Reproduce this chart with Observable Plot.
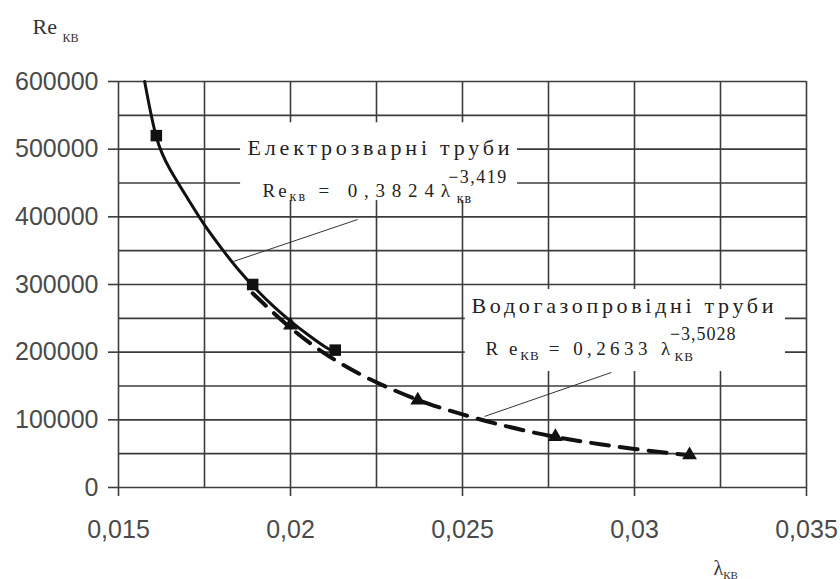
<!DOCTYPE html>
<html><head><meta charset="utf-8">
<script src="https://cdn.jsdelivr.net/npm/d3@7"></script>
<script src="https://cdn.jsdelivr.net/npm/@observablehq/plot@0.6"></script>
<style>body{margin:0;background:#fff} svg{display:block} svg text.serif, svg text.serif tspan{font-family:"Liberation Serif","DejaVu Serif","Noto Serif",serif !important}</style>
</head><body><div id="chart"></div>
<script>
// ---- tick values & labels ----
const xTicks = [0.015, 0.02, 0.025, 0.03, 0.035];
const xTickLabels = ["0,015", "0,02", "0,025", "0,03", "0,035"];
const yTicks = [0, 100000, 200000, 300000, 400000, 500000, 600000];
const yTickLabels = ["0", "100000", "200000", "300000", "400000", "500000", "600000"];
const xGrid = [0.015, 0.0175, 0.02, 0.0225, 0.025, 0.0275, 0.03, 0.0325, 0.035];
const yGrid = [0, 50000, 100000, 150000, 200000, 250000, 300000, 350000, 400000, 450000, 500000, 550000, 600000];

// ---- Електрозварні труби (squares, solid curve) ----
const elLambda = [0.0161, 0.0189, 0.0213];
const elRe = [520000, 300000, 203000];
const elCurveLambda = [0.01576, 0.0161, 0.0165, 0.017, 0.0175, 0.018, 0.0185, 0.019, 0.0195, 0.02, 0.0205, 0.021, 0.0213];
const elCurveRe = [600000, 518000, 470000, 428000, 388000, 353000, 321000, 293000, 268000, 246000, 226000, 208000, 200000];

// ---- Водогазопровідні труби (triangles, dashed curve) ----
const wgLambda = [0.02, 0.0237, 0.0277, 0.0316];
const wgRe = [240000, 129000, 75000, 48000];
const wgCurveLambda = [0.0189, 0.02, 0.021, 0.022, 0.023, 0.024, 0.025, 0.026, 0.027, 0.028, 0.029, 0.03, 0.031, 0.0316];
const wgCurveRe = [287000, 236000, 198000, 168000, 144000, 124000, 108000, 94000, 82000, 72000, 64000, 57000, 51000, 47500];

const seriesNames = ["Електрозварні труби", "Водогазопровідні труби"];
const formulaKeys = ["F1", "F2"];

const el = elLambda.map((x, i) => ({x, y: elRe[i]}));
const elCurve = elCurveLambda.map((x, i) => ({x, y: elCurveRe[i]}));
const wg = wgLambda.map((x, i) => ({x, y: wgRe[i]}));
const wgCurve = wgCurveLambda.map((x, i) => ({x, y: wgCurveRe[i]}));

const gridColor = "#3c3c3c";

const plot = Plot.plot({
  width: 840, height: 579,
  marginLeft: 118, marginRight: 34, marginTop: 81, marginBottom: 92,
  x: {domain: [0.015, 0.035]},
  y: {domain: [0, 600000]},
  style: {fontFamily: "Liberation Sans, Arial, sans-serif", color: "#444", background: "#fff"},
  marks: [
    Plot.ruleY(yGrid, {x1: 0.015, x2: 0.035, stroke: gridColor, strokeWidth: 1.6}),
    Plot.ruleX(xGrid, {y1: 0, y2: 600000, stroke: gridColor, strokeWidth: 1.6}),
    Plot.axisY({ticks: yTicks, tickFormat: d => yTickLabels[yTicks.indexOf(d)], tickSize: 10, tickPadding: 10, label: null, fontSize: 25, fill: "#4a4a4a", stroke: gridColor, strokeWidth: 1.6}),
    Plot.axisX({ticks: xTicks, tickFormat: d => xTickLabels[xTicks.indexOf(d)], tickSize: 9, tickPadding: 24, label: null, fontSize: 25, fill: "#4a4a4a", stroke: gridColor, strokeWidth: 1.6}),
    // white label boxes
    Plot.rect([0], {x1: 0.01855, x2: 0.0266, y1: 424000, y2: 539000, fill: "white"}),
    Plot.rect([0], {x1: 0.02508, x2: 0.03439, y1: 171400, y2: 292600, fill: "white"}),
    // curves
    Plot.line(wgCurve, {x: "x", y: "y", curve: "natural", stroke: "#111", strokeWidth: 4, strokeDasharray: "18,11"}),
    Plot.line(elCurve, {x: "x", y: "y", curve: "natural", stroke: "#111", strokeWidth: 3}),
    Plot.dot(el, {x: "x", y: "y", symbol: "square", r: 6.5, fill: "#111"}),
    Plot.dot(wg, {x: "x", y: "y", symbol: "triangle", r: 5.5, fill: "#111"}),
    // leader lines
    Plot.link([0], {x1: 0.02195, y1: 396000, x2: 0.01834, y2: 334000, stroke: "#333", strokeWidth: 1}),
    Plot.link([0], {x1: 0.02933, y1: 170000, x2: 0.02564, y2: 105000, stroke: "#333", strokeWidth: 1}),
    // annotation texts
    Plot.text([seriesNames[0]], {x: 0.02256, y: 492100, text: d => d, textAnchor: "middle", lineAnchor: "bottom", fontFamily: "Liberation Serif", fontSize: 22, fill: "#222"}),
    Plot.text([seriesNames[1]], {x: 0.02965, y: 258600, text: d => d, textAnchor: "middle", lineAnchor: "bottom", fontFamily: "Liberation Serif", fontSize: 22, fill: "#222"}),
    Plot.text([formulaKeys[0]], {x: 0.019186, y: 428600, text: d => d, textAnchor: "start", lineAnchor: "bottom", fontFamily: "Liberation Serif", fontSize: 18, fill: "#222"}),
    Plot.text([formulaKeys[1]], {x: 0.025669, y: 195100, text: d => d, textAnchor: "start", lineAnchor: "bottom", fontFamily: "Liberation Serif", fontSize: 18, fill: "#222"}),
    // axis titles
    Plot.text(["YL"], {frameAnchor: "top-left", text: d => d, dx: -86, dy: -48, textAnchor: "start", lineAnchor: "bottom", fontFamily: "Liberation Serif", fontSize: 21, fill: "#333"}),
    Plot.text(["XL"], {frameAnchor: "bottom-right", text: d => d, dx: -93, dy: 87, textAnchor: "start", lineAnchor: "bottom", fontFamily: "Liberation Serif", fontSize: 21, fill: "#333"})
  ]
});

document.getElementById("chart").appendChild(plot);

function findText(content) {
  return d3.select(plot).selectAll("text").filter(function() { return this.textContent === content; });
}
function rich(content, parts) {
  findText(content).classed("serif", true).each(function() {
    const t = d3.select(this);
    t.text(null);
    for (const p of parts) {
      const s = t.append("tspan").text(p.t).attr("font-size", p.fs);
      if (p.dx) s.attr("dx", p.dx);
      if (p.dy) s.attr("dy", p.dy);
      if (p.ls != null) s.style("letter-spacing", p.ls + "px");
    }
  });
}
findText(seriesNames[0]).classed("serif", true).attr("textLength", 262).attr("lengthAdjust", "spacing");
findText(seriesNames[1]).classed("serif", true).attr("textLength", 302).attr("lengthAdjust", "spacing");

rich("F1", [
  {t: "Re", fs: 19, ls: 3},
  {t: "кв", fs: 14, dy: 4, ls: 2},
  {t: " = 0,3824λ", fs: 19, dy: -4, ls: 6.8},
  {t: "кв", fs: 14, dy: 6, ls: 1},
  {t: "−3,419", fs: 18, dx: -24, dy: -20, ls: 1.5}
]);
rich("F2", [
  {t: "R e", fs: 19, ls: 3},
  {t: "КВ", fs: 13, dy: 5, ls: 1},
  {t: " = 0,2633 λ", fs: 19, dy: -5, ls: 4.4},
  {t: "КВ", fs: 13, dy: 6, ls: 1},
  {t: "−3,5028", fs: 18, dx: -24, dy: -21, ls: 1}
]);
rich("YL", [
  {t: "Re ", fs: 22},
  {t: "КВ", fs: 12, dy: 8}
]);
rich("XL", [
  {t: "λ", fs: 20},
  {t: "КВ", fs: 11, dy: 4}
]);
</script>
</body></html>
